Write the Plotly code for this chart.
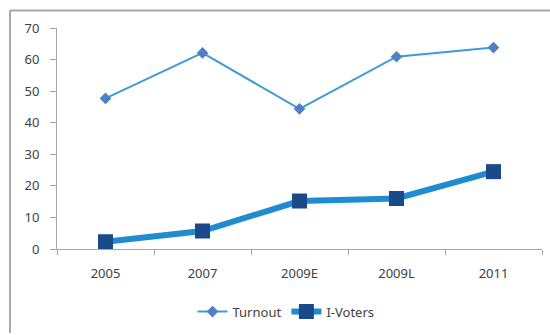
import plotly.graph_objects as go

categories = ["2005", "2007", "2009E", "2009L", "2011"]
turnout = [47.7, 62.1, 44.4, 60.9, 63.8]
i_voters = [2.3, 5.7, 15.2, 16.0, 24.5]
y_ticks = [0, 10, 20, 30, 40, 50, 60, 70]

fig = go.Figure()
fig.add_trace(go.Scatter(
    x=categories, y=turnout, name="Turnout", mode="lines+markers",
    line=dict(color="#3d9bd8", width=2),
    marker=dict(symbol="diamond", size=9, color="#4f7fc4"),
))
fig.add_trace(go.Scatter(
    x=categories, y=i_voters, name="I-Voters", mode="lines+markers",
    line=dict(color="#1f8ccf", width=6),
    marker=dict(symbol="square", size=15, color="#1b4a8a"),
))

L, R, T, B = 57, 8, 28, 81
pw, ph = 550 - L - R, 335 - T - B

def px_x(x):
    return (x - L) / pw

def px_y(y):
    return (335 - B - y) / ph

fig.update_layout(
    width=550, height=335,
    margin=dict(l=L, r=R, t=T, b=B),
    paper_bgcolor="white", plot_bgcolor="white",
    font=dict(family="Noto Sans", size=13, color="#404040"),
    showlegend=True,
    legend=dict(orientation="h", x=px_x(286), y=px_y(318), xanchor="center",
                yanchor="middle", itemwidth=30,
                font=dict(size=13, color="#404040")),
    xaxis=dict(
        type="category", range=[-0.5, 4.5], showgrid=False, zeroline=False,
        showline=True, linecolor="#a6a6a6", linewidth=1,
        ticks="outside", ticklen=5, tickcolor="#a6a6a6", tickson="boundaries",
        ticklabelstandoff=12, fixedrange=True,
    ),
    yaxis=dict(
        range=[0, 70], tickvals=y_ticks, showgrid=False, zeroline=False,
        showline=True, linecolor="#a6a6a6", linewidth=1,
        ticks="outside", ticklen=6, tickcolor="#a6a6a6", ticklabelstandoff=8,
        fixedrange=True,
    ),
    shapes=[
        dict(type="line", xref="paper", yref="paper",
             x0=px_x(10), x1=px_x(552), y0=px_y(10), y1=px_y(10),
             line=dict(color="#a8a8a8", width=2)),
        dict(type="line", xref="paper", yref="paper",
             x0=px_x(10), x1=px_x(10), y0=px_y(10), y1=px_y(340),
             line=dict(color="#a8a8a8", width=2)),
    ],
)

fig.write_html("out.html")
